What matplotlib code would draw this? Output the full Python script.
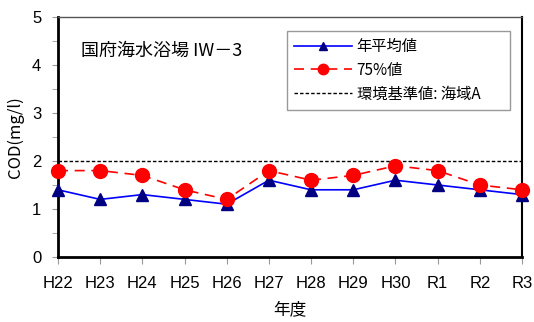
import matplotlib
matplotlib.use('Agg')
import matplotlib.pyplot as plt
from matplotlib.ticker import MultipleLocator

plt.rcParams['font.family'] = ['Noto Sans CJK JP', 'DejaVu Sans']

# ─────────────────────────────
# DATOS
# ─────────────────────────────
years = ['H22', 'H23', 'H24', 'H25', 'H26', 'H27', 'H28', 'H29', 'H30', 'R1', 'R2', 'R3']
avg_values = [1.4, 1.2, 1.3, 1.2, 1.1, 1.6, 1.4, 1.4, 1.6, 1.5, 1.4, 1.3]
p75_values = [1.8, 1.8, 1.7, 1.4, 1.2, 1.8, 1.6, 1.7, 1.9, 1.8, 1.5, 1.4]
standard_value = 2.0

fig = plt.figure(figsize=(5.34, 3.22), dpi=100)
ax = fig.add_axes([58 / 534, 1 - 257 / 322, 464 / 534, 240 / 322])

x = list(range(len(years)))
ax.plot(x, avg_values, color='#0000ff', lw=1.2, marker='^', ms=8,
        mfc='#000080', mec='#000080', label='年平均値', clip_on=False, zorder=4)
ax.plot(x, p75_values, color='#ff0000', lw=1.2, ls=(0, (6, 4)), marker='o', ms=10,
        mfc='#ff0000', mec='#ff0000', label='75%値', clip_on=False, zorder=5)
ax.axhline(standard_value, color='black', lw=1.0, ls=(0, (2.5, 1.5)),
           label='環境基準値: 海域A', zorder=3)

ax.set_xlim(0, len(years) - 1)
ax.set_ylim(0, 5)
ax.set_xticks(x)
ax.set_xticklabels(years, fontsize=12, family=['Liberation Sans', 'DejaVu Sans'])
ax.yaxis.set_major_locator(MultipleLocator(1))
ax.yaxis.set_minor_locator(MultipleLocator(0.5))
ax.tick_params(axis='y', which='both', direction='out', length=4, color='#999999',
               labelsize=12, pad=8)
ax.tick_params(axis='x', direction='out', length=5, color='#999999', pad=9)
for lab in ax.get_yticklabels():
    lab.set_family(['Liberation Sans', 'DejaVu Sans'])

ax.set_ylabel('COD(mg/l)', fontsize=12, labelpad=6)
ax.set_xlabel('年度', fontsize=12, labelpad=7)

for side in ['left', 'bottom']:
    ax.spines[side].set_linewidth(2)
    ax.spines[side].set_color('black')
ax.spines['right'].set_linewidth(1.5)
ax.spines['top'].set_linewidth(1.0)
ax.spines['top'].set_color('#555555')

ax.text(0.05, 0.86, '国府海水浴場 IW－3', transform=ax.transAxes, fontsize=13,
        ha='left', va='center')

# caja de leyenda: de x=287 a 510 px, arriba en y=31 px
lx0 = (287 - 58) / 464
lw_ = (510 - 287) / 464
ltop = (257 - 31) / 240
leg = ax.legend(loc='upper left', bbox_to_anchor=(lx0, ltop - 0.3, lw_, 0.3),
                mode='expand', fontsize=11, frameon=True, fancybox=False,
                edgecolor='#808080', borderpad=0.45, labelspacing=0.45,
                handlelength=3.8, handletextpad=0.3, borderaxespad=0,
                markerscale=0.75)
leg.get_frame().set_linewidth(1.0)

plt.savefig('out.png', dpi=100)
